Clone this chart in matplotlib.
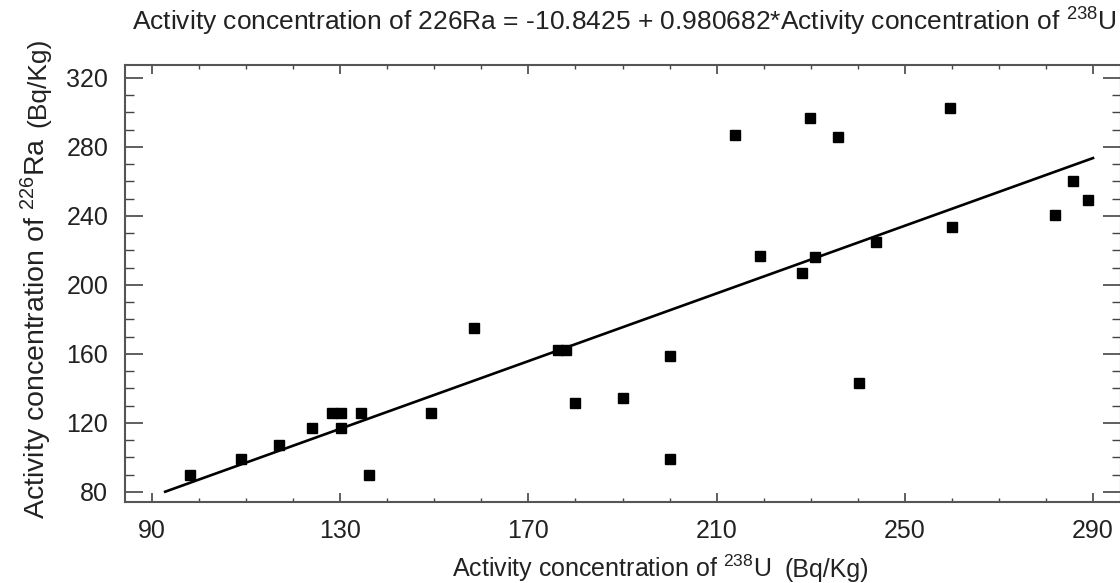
import matplotlib
matplotlib.use("Agg")
import matplotlib.pyplot as plt
import numpy as np
from matplotlib.ticker import MultipleLocator

plt.rcParams['font.family'] = ['Liberation Sans', 'DejaVu Sans']
plt.rcParams['mathtext.fontset'] = 'custom'
plt.rcParams['mathtext.rm'] = 'Liberation Sans'
plt.rcParams['mathtext.it'] = 'Liberation Sans'
plt.rcParams['mathtext.bf'] = 'Liberation Sans'

# ---- data ----
u238 = [98, 109, 117, 124, 128.3, 130.1, 130.1, 134.4, 136.2, 149.4, 158.5,
        176.2, 178.0, 179.9, 190.2, 200.0, 200.2, 213.9, 219.2, 228.2, 229.8,
        230.9, 235.9, 240.3, 243.9, 259.5, 260.0, 281.9, 285.8, 288.9]
ra226 = [90, 99, 107, 117, 125.6, 125.6, 117, 125.6, 90, 125.6, 175.3,
         162.3, 162.3, 131.4, 134.3, 159, 99, 287, 216.8, 206.8, 297,
         216, 286, 143.4, 225.1, 302.8, 233.8, 240.6, 260.3, 249.3]
intercept = -10.8425
slope = 0.980682
fit_x_range = [92.8, 290.0]
x_ticks = [90, 130, 170, 210, 250, 290]
y_ticks = [80, 120, 160, 200, 240, 280, 320]

W, H = 1120, 583
fig = plt.figure(figsize=(W / 100, H / 100), dpi=100)
ax = fig.add_axes([125 / W, 1 - 502 / H, 996 / W, 437 / H])

fx = np.array(fit_x_range)
ax.plot(fx, intercept + slope * fx, color='black', lw=1.9, zorder=2)
ax.plot(u238, ra226, linestyle='none', marker='s', markersize=7.3,
        color='black', zorder=3)

ax.set_xlim(84.26, 295.95)
ax.set_ylim(74.2, 327.5)
ax.set_xticks(x_ticks)
ax.set_yticks(y_ticks)
ax.xaxis.set_minor_locator(MultipleLocator(10))
ax.yaxis.set_minor_locator(MultipleLocator(10))
ax.tick_params(which='both', direction='in', top=True, right=True,
               color='#444444', labelcolor='#222222', labelsize=18)
ax.xaxis.set_tick_params(which='major', length=6.5, width=1.2, pad=12)
ax.xaxis.set_tick_params(which='minor', length=3, width=1.0)
ax.yaxis.set_tick_params(which='major', length=13, width=1.2, pad=12)
ax.yaxis.set_tick_params(which='minor', length=6.5, width=1.0)
for s in ax.spines.values():
    s.set_color('#555555')
    s.set_linewidth(1.5)

# title
fig.text(624 / W, 1 - 22 / H,
         r"Activity concentration of 226Ra = -10.8425 + 0.980682*Activity concentration of $^{238}$U",
         ha='center', va='center', fontsize=19, color='#222222')

fig.canvas.draw()
r = fig.canvas.get_renderer()

# x label (main + unit)
t1 = fig.text(452 / W, 1 - 577 / H, r"Activity concentration of $^{238}$U",
              ha='left', va='baseline', fontsize=18, color='#222222')
bb = t1.get_window_extent(r)
fig.text((bb.x1 + 13) / W, 1 - 577 / H, "(Bq/Kg)", ha='left', va='baseline',
         fontsize=18, color='#222222')

# y label (main + unit), reading bottom to top
t2 = fig.text(45 / W, 1 - 519 / H, r"Activity concentration of $^{226}$Ra",
              ha='left', va='baseline', rotation=90, rotation_mode='anchor',
              fontsize=20.5, color='#222222')
bb2 = t2.get_window_extent(r)
fig.text(45 / W, (bb2.y1 + 10) / H, "(Bq/Kg)", ha='left', va='baseline',
         rotation=90, rotation_mode='anchor', fontsize=19, color='#222222')

fig.savefig("out.png", dpi=100)
